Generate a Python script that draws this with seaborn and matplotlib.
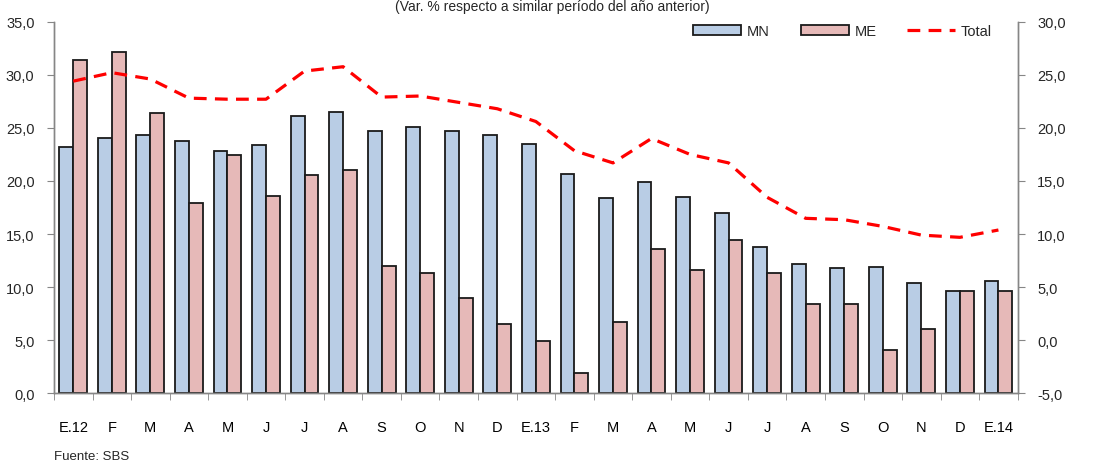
import numpy as np
import pandas as pd
import matplotlib
matplotlib.use("Agg")
import matplotlib.pyplot as plt
import seaborn as sns
from matplotlib.patches import Patch
from matplotlib.lines import Line2D
from matplotlib.ticker import FuncFormatter, FixedLocator

# ---- data ----
month_ids = ["E.12", "F.12", "M.12", "A.12", "My.12", "J.12", "Jl.12", "Ag.12", "S.12",
             "O.12", "N.12", "D.12", "E.13", "F.13", "M.13", "A.13", "My.13", "J.13",
             "Jl.13", "Ag.13", "S.13", "O.13", "N.13", "D.13", "E.14"]
tick_labels = ["E.12", "F", "M", "A", "M", "J", "J", "A", "S", "O", "N", "D", "E.13",
               "F", "M", "A", "M", "J", "J", "A", "S", "O", "N", "D", "E.14"]
mn = [23.2, 24.0, 24.3, 23.8, 22.8, 23.35, 26.1, 26.5, 24.7, 25.1, 24.7, 24.3, 23.5,
      20.7, 18.4, 19.9, 18.5, 17.0, 13.8, 12.15, 11.8, 11.9, 10.36, 9.67, 10.6]
me = [31.4, 32.1, 26.4, 17.95, 22.4, 18.6, 20.6, 21.0, 12.0, 11.3, 9.0, 6.5, 4.96,
      1.9, 6.75, 13.56, 11.6, 14.4, 11.3, 8.4, 8.4, 4.1, 6.06, 9.67, 9.67]
total = [24.4, 25.2, 24.6, 22.8, 22.7, 22.7, 25.35, 25.76, 22.9, 23.0, 22.4, 21.8, 20.6,
         17.85, 16.7, 19.0, 17.5, 16.7, 13.46, 11.48, 11.35, 10.72, 9.9, 9.69, 10.38]

series_names = ["MN", "ME"]
bar_colors = ["#B9CDE5", "#E6B9B8"]

df_bars = pd.DataFrame({
    "mes": month_ids * 2,
    "serie": ["MN"] * len(month_ids) + ["ME"] * len(month_ids),
    "valor": mn + me,
})
df_total = pd.DataFrame({"mes": month_ids, "Total": total})

# ---- style ----
sns.set_style("white")
plt.rcParams["font.family"] = ["Liberation Sans", "DejaVu Sans"]

fig = plt.figure(figsize=(10.94, 4.64), dpi=100)
ax = fig.add_axes([54 / 1094, 1 - 394.3 / 464, (1017.7 - 54) / 1094, (394.3 - 22.7) / 464])

sns.barplot(data=df_bars, x="mes", y="valor", hue="serie", order=month_ids,
            hue_order=series_names, palette=bar_colors, width=0.72, saturation=1,
            edgecolor="#1a1a1a", linewidth=1.3, ax=ax, legend=False)

ax2 = ax.twinx()
sns.lineplot(data=df_total, x="mes", y="Total", ax=ax2, color="#FF0000",
             linewidth=2.3, dashes=False, legend=False)
for ln in ax2.get_lines():
    ln.set_dashes((4, 2.6))

gray = "#868686"
ax.set_xlim(-0.5, len(month_ids) - 0.5)
ax.set_ylim(0, 35)
ax2.set_ylim(-5, 30)
ax.set_yticks(np.arange(0, 35.1, 5))
ax2.set_yticks(np.arange(-5, 30.1, 5))
fmt = FuncFormatter(lambda v, p: f"{v:.1f}".replace(".", ","))
ax.yaxis.set_major_formatter(fmt)
ax2.yaxis.set_major_formatter(fmt)

fs = 10.5
ax.set_xticks(range(len(month_ids)))
ax.set_xticklabels(tick_labels)
ax.xaxis.set_minor_locator(FixedLocator(np.arange(-0.5, len(month_ids), 1.0)))
ax.tick_params(axis="x", which="major", length=0, pad=19, labelsize=fs, labelcolor="black")
ax.tick_params(axis="x", which="minor", length=5, color=gray, direction="out", bottom=True)
ax.tick_params(axis="y", length=5, color=gray, direction="out", pad=9, labelsize=fs, left=True)
ax2.tick_params(axis="y", length=5, color=gray, direction="out", pad=9, labelsize=fs, right=True)

for a in (ax, ax2):
    a.set_xlabel("")
    a.set_ylabel("")
    a.spines["top"].set_visible(False)
    for s in ("left", "right", "bottom"):
        a.spines[s].set_color(gray)
        a.spines[s].set_linewidth(1.0)
ax.grid(False)
ax2.grid(False)

handles = [Patch(facecolor=bar_colors[0], edgecolor="#1a1a1a", linewidth=1.3),
           Patch(facecolor=bar_colors[1], edgecolor="#1a1a1a", linewidth=1.3),
           Line2D([0], [0], color="#FF0000", linewidth=2.3, dashes=(4, 2.6))]
ax2.legend(handles, ["MN", "ME", "Total"], ncol=3, frameon=False, fontsize=fs,
           loc="center right", bbox_to_anchor=(998 / 1094, 1 - 32 / 464),
           bbox_transform=fig.transFigure, handlelength=3.3, handleheight=0.65,
           handletextpad=0.4, columnspacing=2.1, borderaxespad=0)

fig.text(552 / 1094, 1 - 11 / 464, "(Var. % respecto a similar período del año anterior)",
         ha="center", va="baseline", fontsize=10)
fig.text(54 / 1094, 1 / 464, "Fuente: SBS", ha="left", va="bottom", fontsize=9.5)

fig.savefig("out.png", dpi=100)
